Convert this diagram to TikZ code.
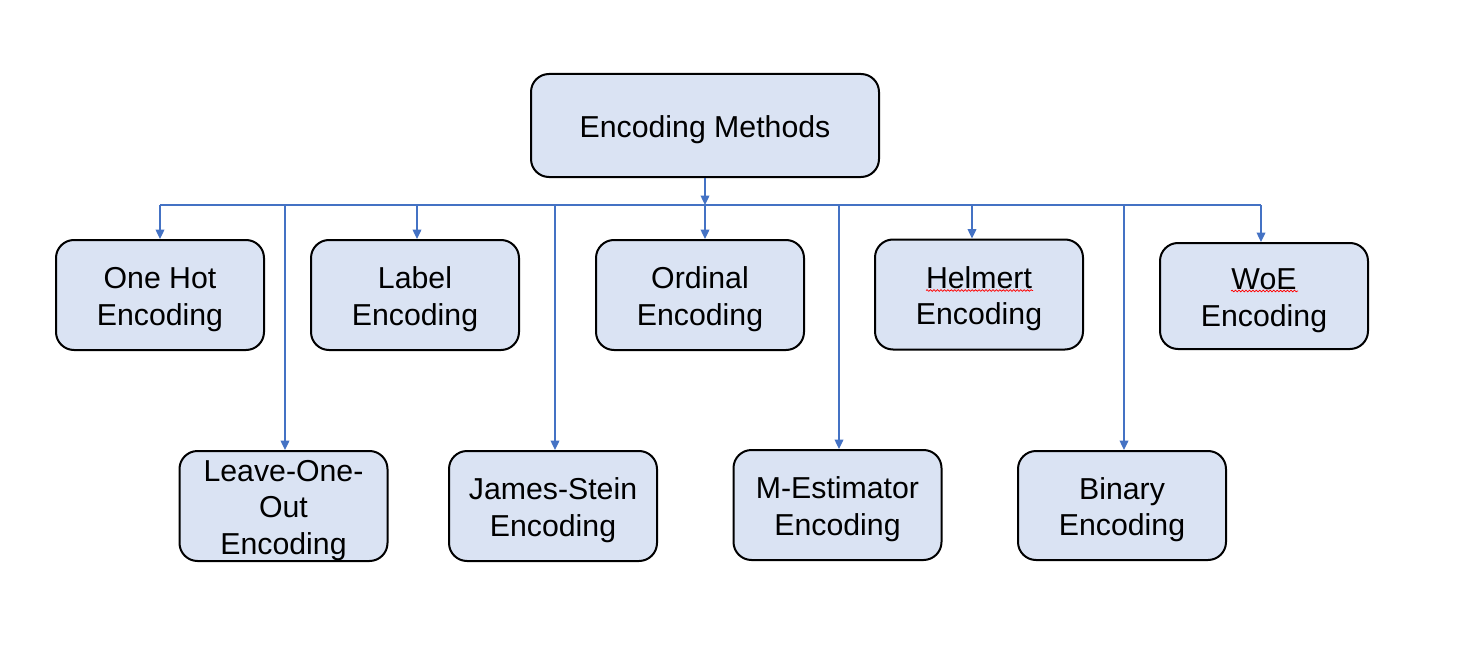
\documentclass[tikz,border=0pt]{standalone}
\usepackage{fontspec}
\setmainfont{Liberation Sans}
\usetikzlibrary{arrows.meta,decorations.pathmorphing}
\definecolor{boxfill}{HTML}{DAE3F3}
\definecolor{linkblue}{HTML}{4472C4}
\newcommand\encpad{\rule{0pt}{22.6pt}}
\begin{document}
\begin{tikzpicture}[x=0.75pt,y=-0.75pt,
  encbox/.style={draw=black, line width=1.5pt, fill=boxfill, rounded corners=13.5pt,
    minimum width=156pt, minimum height=82.5pt, inner sep=0pt, align=center,
    font=\fontsize{22.7}{27.5}\selectfont},
  rootbox/.style={encbox, minimum width=261pt, minimum height=77.25pt},
  busline/.style={draw=linkblue, line width=1pt},
  conn/.style={busline, -{Triangle[width=6.5pt,length=7pt]}},
  spell/.style={draw=red, line width=0.55pt, decorate, decoration={snake, amplitude=0.6pt, segment length=2.6pt}}]
\useasboundingbox (0,0) rectangle (1482,667);
% nodes
\node[rootbox] (root) at (705,125.5) {\encpad Encoding Methods};
\node[encbox] (onehot) at (160,295) {\encpad One Hot\\Encoding};
\node[encbox] (label) at (415,295) {\encpad Label\\Encoding};
\node[encbox] (ordinal) at (700,295) {\encpad Ordinal\\Encoding};
\node[encbox] (helmert) at (979,294.5) {\encpad Helmert\\Encoding};
\node[encbox, minimum height=79.5pt] (woe) at (1264,296) {\encpad WoE\\Encoding};
\node[encbox] (loo) at (283.5,506) {\encpad Leave-One-\\Out\\Encoding};
\node[encbox] (james) at (553,506) {\encpad James-Stein\\Encoding};
\node[encbox] (mest) at (837.5,505) {\encpad M-Estimator\\Encoding};
\node[encbox, minimum height=81.75pt] (binary) at (1122,505.5) {\encpad Binary\\Encoding};
% bus coordinates
\coordinate (bmid) at (705,205);
\coordinate (b1) at (160,205);
\coordinate (b2) at (285,205);
\coordinate (b3) at (417,205);
\coordinate (b4) at (555,205);
\coordinate (b5) at (705,205);
\coordinate (b6) at (839,205);
\coordinate (b7) at (972,205);
\coordinate (b8) at (1124,205);
\coordinate (b9) at (1261,205);
% connectors
\draw[conn] (root.south) -- (bmid);
\draw[busline] (b1) -- (b9);
\draw[conn] (b1) -- (b1 |- onehot.north);
\draw[conn] (b2) -- (b2 |- loo.north);
\draw[conn] (b3) -- (b3 |- label.north);
\draw[conn] (b4) -- (b4 |- james.north);
\draw[conn] (b5) -- (b5 |- ordinal.north);
\draw[conn] (b6) -- (b6 |- mest.north);
\draw[conn] (b7) -- (b7 |- helmert.north);
\draw[conn] (b8) -- (b8 |- binary.north);
\draw[conn] (b9) -- (b9 |- woe.north);
% spell-check marks
\draw[spell] (926,290.5) -- (1033,290.5);
\draw[spell] (1231,291) -- (1298,291);
\end{tikzpicture}
\end{document}
